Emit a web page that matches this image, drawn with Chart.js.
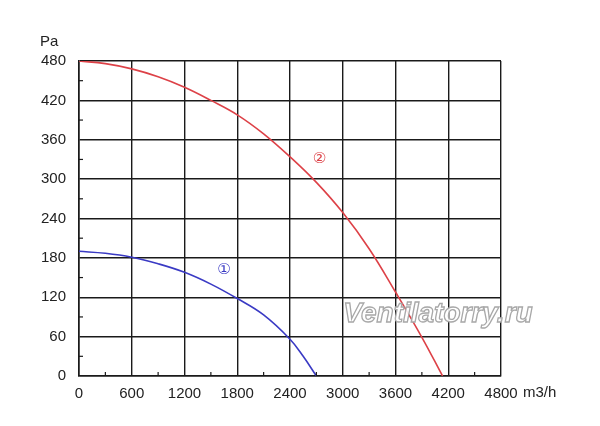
<!DOCTYPE html>
<html>
<head>
<meta charset="utf-8">
<script src="https://cdn.jsdelivr.net/npm/chart.js@4.4.0/dist/chart.umd.min.js"></script>
<style>
html,body{margin:0;padding:0;background:#fff;}
#wrap{width:600px;height:426px;position:relative;}
</style>
</head>
<body>
<div id="wrap"><canvas id="c" width="600" height="426"></canvas></div>
<script>
// Data
const flowCurve1 = [0, 300, 600, 900, 1200, 1500, 1800, 2100, 2400, 2550, 2700];
const pressCurve1 = [190, 187, 181, 171, 158, 140, 118, 93, 56, 30, 0];
const flowCurve2 = [0, 300, 600, 900, 1200, 1500, 1800, 2100, 2400, 2700, 3000, 3300, 3600, 3900, 4135];
const pressCurve2 = [480, 476, 468, 456, 440, 420, 398, 369, 334, 295, 249, 194, 128, 59, 0];
const curveLabels = ['①', '②'];
const curveLabelX = [1650, 2736];
const curveLabelY = [161, 331];
const xTickStep = 600, xMax = 4800;
const yTickStep = 60, yMax = 480;
const xUnit = 'm3/h';
const yUnit = 'Pa';
const watermark = 'Ventilatorry.ru';

const FONT = "'Liberation Sans', Arial, sans-serif";
const GRID = '#1a1a1a';
const RED = '#dd4147';
const BLUE = '#3a3ac4';

function toPts(xs, ys){ return xs.map((x,i)=>({x:x, y:ys[i]})); }

const extras = {
  id: 'extras',
  afterDatasetsDraw(chart){
    const ctx = chart.ctx;
    const xs = chart.scales.x, ys = chart.scales.y;
    const a = chart.chartArea;
    ctx.save();
    // minor ticks
    ctx.strokeStyle = GRID; ctx.lineWidth = 1.2;
    for (let v = xTickStep/2; v < xMax; v += xTickStep){
      const px = xs.getPixelForValue(v);
      ctx.beginPath(); ctx.moveTo(px, a.bottom); ctx.lineTo(px, a.bottom-4); ctx.stroke();
    }
    for (let v = yTickStep/2; v < yMax; v += yTickStep){
      const py = ys.getPixelForValue(v);
      ctx.beginPath(); ctx.moveTo(a.left, py); ctx.lineTo(a.left+4, py); ctx.stroke();
    }
    // curve labels
    const cols = [BLUE, RED];
    ctx.font = "15px 'DejaVu Sans', sans-serif";
    ctx.textAlign = 'center'; ctx.textBaseline = 'middle';
    curveLabels.forEach((t,i)=>{
      ctx.fillStyle = cols[i];
      ctx.fillText(t, xs.getPixelForValue(curveLabelX[i]), ys.getPixelForValue(curveLabelY[i]));
    });
    // units
    ctx.fillStyle = '#222';
    ctx.font = "15px " + FONT;
    ctx.textAlign = 'left'; ctx.textBaseline = 'middle';
    ctx.fillText(yUnit, 40, 42);
    ctx.fillText(xUnit, a.right + 22, 393);
    // watermark
    ctx.font = "italic bold 28px " + FONT;
    ctx.textAlign = 'center'; ctx.textBaseline = 'alphabetic';
    ctx.lineWidth = 1.3;
    ctx.fillStyle = 'rgba(255,255,255,0.9)';
    ctx.strokeStyle = '#a8a8a8';
    ctx.fillText(watermark, 438, 322);
    ctx.strokeText(watermark, 438, 322);
    ctx.restore();
  }
};

new Chart(document.getElementById('c'), {
  type: 'line',
  data: {
    datasets: [
      { data: toPts(flowCurve1, pressCurve1), borderColor: BLUE, borderWidth: 1.6, pointRadius: 0, tension: 0.4, fill: false },
      { data: toPts(flowCurve2, pressCurve2), borderColor: RED, borderWidth: 1.6, pointRadius: 0, tension: 0.4, fill: false }
    ]
  },
  options: {
    responsive: false,
    animation: false,
    devicePixelRatio: 1,
    layout: { padding: { left: 0, right: 99, top: 61, bottom: 0 } },
    plugins: { legend: { display: false }, tooltip: { enabled: false } },
    scales: {
      x: {
        type: 'linear', min: 0, max: xMax,
        afterFit(s){ s.height = 50; },
        ticks: { stepSize: xTickStep, color: '#222', font: { family: FONT, size: 15 }, padding: 9, maxRotation: 0, autoSkip: false,
                 callback: v => String(v) },
        grid: { color: GRID, lineWidth: 1.4, drawTicks: false },
        border: { color: GRID, width: 1.6 }
      },
      y: {
        type: 'linear', min: 0, max: yMax,
        afterFit(s){ s.width = 79; },
        ticks: { stepSize: yTickStep, color: '#222', font: { family: FONT, size: 15 }, padding: 13, callback: v => String(v) },
        grid: { color: GRID, lineWidth: 1.4, drawTicks: false },
        border: { color: GRID, width: 1.6 }
      }
    }
  },
  plugins: [extras]
});
</script>
</body>
</html>
